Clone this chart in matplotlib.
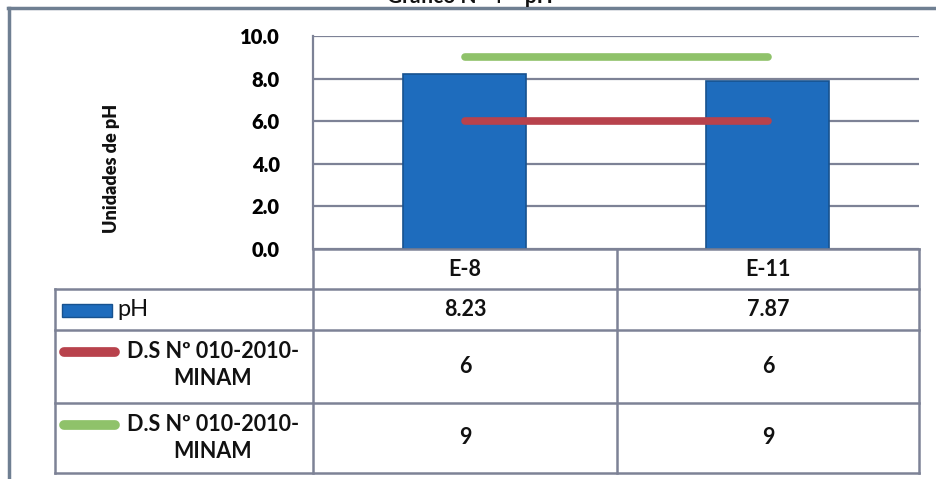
import matplotlib
matplotlib.use('Agg')
import matplotlib.pyplot as plt
from matplotlib.lines import Line2D
from matplotlib.patches import Rectangle

# data
stations = ['E-8', 'E-11']
ph_values = [8.23, 7.87]
ds_min = [6, 6]
ds_max = [9, 9]
series_labels = ['pH', 'D.S Nº 010-2010-\nMINAM', 'D.S Nº 010-2010-\nMINAM']
y_ticks = [0.0, 2.0, 4.0, 6.0, 8.0, 10.0]

W, H = 936, 479
BLUE = '#1e6cbd'
RED = '#b8424c'
GREEN = '#8fc26a'
GRID = '#7d8296'

plt.rcParams['font.family'] = ['Lato', 'DejaVu Sans']

fig = plt.figure(figsize=(W / 100, H / 100), dpi=100)

# plot area (pixel box -> figure fraction)
px_l, px_r, px_t, px_b = 313, 919, 36, 249
ax = fig.add_axes([px_l / W, 1 - px_b / H, (px_r - px_l) / W, (px_b - px_t) / H])

x = list(range(len(stations)))
ax.bar(x, ph_values, width=0.405, color=BLUE, edgecolor='#17528f', linewidth=1.2, zorder=3)
ax.plot(x, ds_min, color=RED, linewidth=5.5, solid_capstyle='round', zorder=4)
ax.plot(x, ds_max, color=GREEN, linewidth=5.5, solid_capstyle='round', zorder=4)

ax.set_xlim(-0.5, len(stations) - 0.5)
ax.set_ylim(0, 10)
ax.set_yticks(y_ticks)
ax.set_yticklabels([f'{v:.1f}' for v in y_ticks], fontsize=14.5, fontweight='heavy')
ax.tick_params(axis='y', length=0, pad=24)
ax.set_xticks([])
ax.grid(axis='y', color=GRID, linewidth=1.6, zorder=0)
for side in ['top', 'right', 'bottom']:
    ax.spines[side].set_visible(False)
ax.spines['left'].set_color(GRID)
ax.spines['left'].set_linewidth(1.6)

# overlay in pixel coordinates for the data table and frame
tab = fig.add_axes([0, 0, 1, 1], facecolor='none')
tab.set_xlim(0, W)
tab.set_ylim(H, 0)
tab.axis('off')

def hline(x0, x1, y, lw=1.8, c=GRID):
    tab.add_line(Line2D([x0, x1], [y, y], color=c, linewidth=lw))

def vline(x0, y0, y1, lw=1.8, c=GRID):
    tab.add_line(Line2D([x0, x0], [y0, y1], color=c, linewidth=lw))

# outer chart frame (cut at right and bottom)
hline(8, W, 8, lw=2.5, c='#6f7f92')
vline(9, 8, H, lw=2.5, c='#6f7f92')

# title, mostly cropped off the top as in the source scan
tab.text(470, 3, 'Gráfico N° 4 – pH', ha='center', va='baseline',
         fontsize=15, fontweight='bold', color='#111111')

tab.text(111, 168, 'Unidades de pH', rotation=90, ha='center', va='center',
         fontsize=13, fontweight='heavy', color='#111111')

# table geometry
t_left, c1, c2, t_right = 55, 313, 617, 919
rows = [249, 289, 330, 403, 473]
hline(c1, t_right, rows[0])
for y in rows[1:]:
    hline(t_left, t_right, y)
vline(t_left, rows[1], rows[-1])
vline(c1, rows[0], rows[-1])
vline(c2, rows[0], rows[-1])
vline(t_right, rows[0], rows[-1])

FS = 15.5
col_centers = [(c1 + c2) / 2, (c2 + t_right) / 2]
for cx, name in zip(col_centers, stations):
    tab.text(cx, (rows[0] + rows[1]) / 2 + 1, name, ha='center', va='center',
             fontsize=FS, fontweight='bold', color='#111111')

series_values = [ph_values, ds_min, ds_max]
fmt = [lambda v: f'{v:.2f}', lambda v: f'{v:g}', lambda v: f'{v:g}']
for r, vals in enumerate(series_values):
    yc = (rows[r + 1] + rows[r + 2]) / 2
    for cx, v in zip(col_centers, vals):
        tab.text(cx, yc, fmt[r](v), ha='center', va='center',
                 fontsize=FS, fontweight='bold', color='#111111')

# legend keys and labels in the first column
y_ph = (rows[1] + rows[2]) / 2
tab.add_patch(Rectangle((62, y_ph - 6), 50, 13, facecolor=BLUE, edgecolor='#17528f', linewidth=1))
tab.text(117, y_ph, series_labels[0], ha='left', va='center', fontsize=17, color='#111111')

for r, col in [(2, RED), (3, GREEN)]:
    y0 = rows[r] + 22
    tab.add_line(Line2D([64, 115], [y0, y0], color=col, linewidth=7, solid_capstyle='round'))
    tab.text(213, y0 - 11, series_labels[r - 1], ha='center', va='top', multialignment='center',
             fontsize=FS, fontweight='bold', color='#111111', linespacing=1.35)

fig.savefig('out.png', dpi=100)
